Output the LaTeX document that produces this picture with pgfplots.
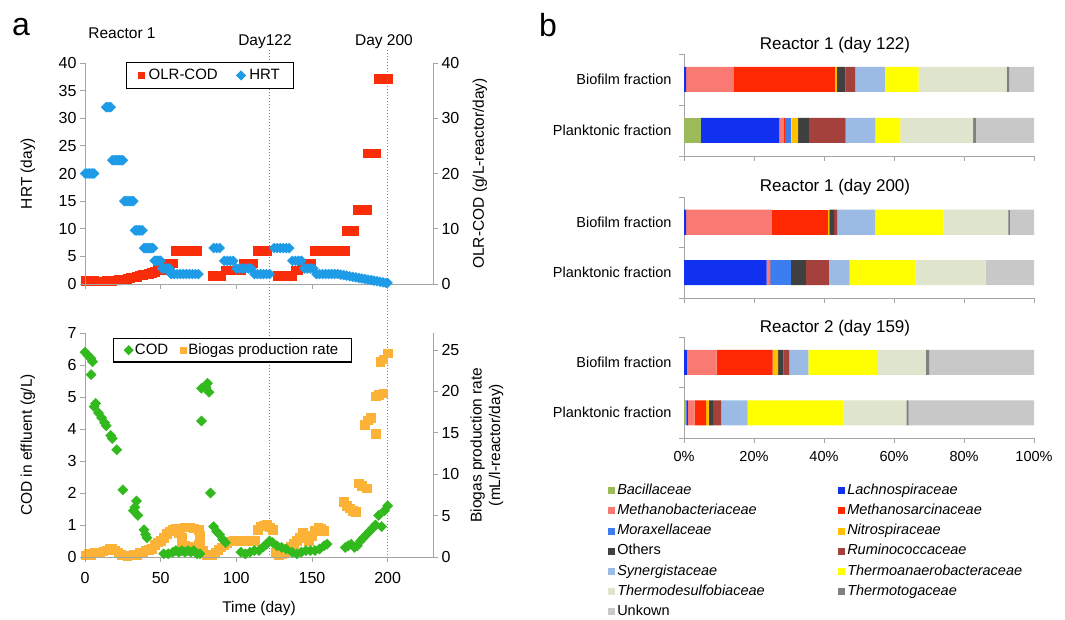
\documentclass[border=0pt]{standalone}
\usepackage{fontspec}
\setmainfont{Liberation Sans}
\usepackage{pgfplots}
\usepackage{pgfplotstable}
\pgfplotsset{compat=1.18}

\definecolor{cOLR}{RGB}{250,45,10}
\definecolor{cHRT}{RGB}{30,155,230}
\definecolor{cCOD}{RGB}{50,185,30}
\definecolor{cBio}{RGB}{252,178,55}
\definecolor{axgray}{RGB}{165,165,165}
\definecolor{cBac}{RGB}{155,187,89}
\definecolor{cLac}{RGB}{16,50,240}
\definecolor{cMba}{RGB}{248,122,114}
\definecolor{cMsa}{RGB}{255,40,0}
\definecolor{cMor}{RGB}{60,125,240}
\definecolor{cNit}{RGB}{255,192,0}
\definecolor{cOth}{RGB}{64,64,64}
\definecolor{cRum}{RGB}{165,65,60}
\definecolor{cSyn}{RGB}{155,187,228}
\definecolor{cTan}{RGB}{255,255,0}
\definecolor{cTds}{RGB}{223,228,205}
\definecolor{cTto}{RGB}{128,128,128}
\definecolor{cUnk}{RGB}{200,200,200}

\newcommand\ftick{\fontsize{16}{19}\selectfont}
\newcommand\flab{\fontsize{15.5}{18.5}\selectfont}
\newcommand\fleg{\fontsize{15}{18}\selectfont}
\newcommand\fbar{\fontsize{14.5}{17}\selectfont}
\newcommand\ftitle{\fontsize{17}{20}\selectfont}
\newcommand\fletter{\fontsize{32}{36}\selectfont}

\pgfplotsset{
  leftbase/.style={scale only axis, width=348pt, anchor=south west,
    xmin=0, xmax=230, clip=false,
    tick align=outside, major tick length=5pt,
    axis line style={axgray, line width=0.8pt},
    tick style={axgray, line width=0.8pt},
    tick label style={font=\ftick},
    /pgf/number format/assume math mode=true},
  segleg/.style={legend image code/.code={\fill[##1] (0pt,-3.5pt) rectangle (7pt,3.5pt);}},
  barpanel/.style={scale only axis, width=350pt, height=101pt, anchor=south west,
    xmin=0, xmax=100, ymin=0.5, ymax=2.5, xbar stacked, bar width=25pt, clip=false,
    axis x line*=bottom, axis y line*=left,
    axis line style={axgray, line width=0.8pt},
    tick style={axgray, line width=0.8pt},
    tick align=outside, major tick length=5pt,
    xtick={0,20,...,100}, xticklabels={},
    ytick={0.5,1.5,2.5}, yticklabels={},
    extra y ticks={1,2},
    extra y tick labels={Planktonic fraction,Biofilm fraction},
    extra y tick style={major tick length=0pt, yticklabel style={font=\fbar, xshift=-9pt}},
    xticklabel style={font=\fbar, yshift=-5pt},
    every axis plot post/.append style={segleg}},
}

\pgfplotstableread{
pos Bac Lac Mba Msa Mor Nit Oth Rum Syn Tan Tds Tto Unk
2 0 0.6 13.5 29.0 0 0.6 2.4 2.8 8.5 9.6 25.2 0.7 7.1
1 4.8 22.4 1.3 0.3 1.9 1.9 3.1 10.5 8.5 7.1 20.8 0.8 16.6
}\tabA
\pgfplotstableread{
pos Bac Lac Mba Msa Mor Nit Oth Rum Syn Tan Tds Tto Unk
2 0 0.6 24.5 16.1 0 0.3 1.4 0.9 10.8 19.5 18.6 0.3 7.0
1 0 23.6 1.1 0 5.8 0 4.3 6.6 5.9 18.9 20.0 0 13.8
}\tabB
\pgfplotstableread{
pos Bac Lac Mba Msa Mor Nit Oth Rum Syn Tan Tds Tto Unk
2 0 0.8 8.5 16.0 0 1.6 1.5 1.7 5.4 19.7 13.9 1.0 29.9
1 0.7 0.4 1.9 3.3 0 0.8 1.2 2.3 7.6 27.4 17.9 0.7 35.8
}\tabC

\newcommand\barplots[1]{%
  \addplot[fill=cBac, draw=none] table[x=Bac, y=pos] {#1};
  \addplot[fill=cLac, draw=none] table[x=Lac, y=pos] {#1};
  \addplot[fill=cMba, draw=none] table[x=Mba, y=pos] {#1};
  \addplot[fill=cMsa, draw=none] table[x=Msa, y=pos] {#1};
  \addplot[fill=cMor, draw=none] table[x=Mor, y=pos] {#1};
  \addplot[fill=cNit, draw=none] table[x=Nit, y=pos] {#1};
  \addplot[fill=cOth, draw=none] table[x=Oth, y=pos] {#1};
  \addplot[fill=cRum, draw=none] table[x=Rum, y=pos] {#1};
  \addplot[fill=cSyn, draw=none] table[x=Syn, y=pos] {#1};
  \addplot[fill=cTan, draw=none] table[x=Tan, y=pos] {#1};
  \addplot[fill=cTds, draw=none] table[x=Tds, y=pos] {#1};
  \addplot[fill=cTto, draw=none] table[x=Tto, y=pos] {#1};
  \addplot[fill=cUnk, draw=none] table[x=Unk, y=pos] {#1};
}

\begin{document}
\begin{tikzpicture}
\useasboundingbox (0pt,0pt) rectangle (1065pt,619pt);

% ---------------- top left: OLR (right axis) ----------------
\begin{axis}[leftbase, at={(85pt,335pt)}, height=221pt,
  ymin=0, ymax=40, axis x line=none, axis y line*=right,
  ytick={0,10,...,40},
  ylabel={OLR-COD (g/L-reactor/day)},
  every axis y label/.style={at={(axis description cs:1.135,0.5)}, rotate=90, anchor=center, font=\flab}]
\addplot[only marks, mark=square*, mark size=4.3pt, color=cOLR, mark options={draw=none, fill=cOLR}] coordinates {
(0,0.6)(2,0.6)(4,0.6)(6,0.6)
(10,0.5)(12,0.5)(14,0.55)(16,0.6)(18,0.65)(20,0.7)(22,0.8)(24,0.85)(26,0.9)(28,1.0)(30,1.1)(32,1.2)(34,1.3)
(36,1.6)(38,1.7)(40,1.8)(42,1.9)(44,2.0)(46,2.2)
(48,2.6)(50,2.6)(52,2.6)
(54,3.8)(56,3.8)(58,3.8)
(60,6)(62,6)(64,6)(66,6)(68,6)(70,6)(72,6)(74,6)
(84,1.5)(86,1.5)(88,1.5)(90,1.5)
(93,2.5)(95,2.5)(97,2.5)(99,2.5)(101,2.5)(103,2.5)
(105,3.8)(107,3.8)(109,3.8)(111,3.8)
(114,6)(116,6)(118,6)(120,6)
(127,1.5)(129,1.5)(131,1.5)(133,1.5)(135,1.5)(137,1.5)
(139,2.5)(141,2.5)
(143,3.8)(145,3.8)(147,3.8)(149,3.8)
(152,6)(154,6)(156,6)(158,6)(160,6)(162,6)(164,6)(166,6)(168,6)(170,6)(172,6)
(173,9.6)(175,9.6)(177,9.6)(178,9.6)
(180,13.5)(182,13.5)(184,13.5)(186,13.5)
(187,23.7)(189,23.7)(191,23.7)(192,23.7)
(194,37.2)(196,37.2)(198,37.2)(200,37.2)
};
\end{axis}

% ---------------- top left: HRT (left axis) ----------------
\begin{axis}[leftbase, at={(85pt,335pt)}, height=221pt,
  ymin=0, ymax=40, axis x line*=bottom, axis y line*=left,
  xtick={0,50,...,200}, xticklabels={},
  ytick={0,5,...,40},
  ylabel={HRT (day)},
  every axis y label/.style={at={(axis description cs:-0.164,0.5)}, rotate=90, anchor=center, font=\flab},
  legend columns=2,
  legend image code/.code={\draw[#1, mark size=3pt] plot coordinates {(0pt,0pt)};},
  legend style={at={(0.118,1.005)}, anchor=north west, draw=black, line width=1.2pt, fill=white,
    font=\fleg, inner xsep=12pt, inner ysep=5pt,
    /tikz/every odd column/.append style={column sep=2pt},
    /tikz/every even column/.append style={column sep=17pt}}]
\addlegendimage{only marks, mark=square*, color=cOLR, mark options={draw=none, fill=cOLR}}
\addlegendentry{OLR-COD}
\addplot[only marks, mark=square*, mark size=3.5pt, color=cHRT, mark options={rotate=45, draw=none, fill=cHRT}] coordinates {
(0,20)(1,20)(2,20)(3,20)(4,20)(5,20)(6,20)
(14,32)(15,32)(16,32)(17,32)
(18,22.4)(19,22.4)(20,22.4)(21,22.4)(22,22.4)(23,22.4)(24,22.4)(25,22.4)
(26,15)(27,15)(28,15)(29,15)(30,15)(31,15)(32,15)
(33,9.7)(34,9.7)(35,9.7)(36,9.7)(37,9.7)(38,9.7)
(39,6.5)(40,6.5)(41,6.5)(42,6.5)(43,6.5)(44,6.5)(45,6.5)
(46,4.2)(47,4.2)(48,4.2)(49,4.2)(50,4.2)
(51,2.8)(52,2.8)(53,2.8)(54,2.8)(55,2.8)(56,2.8)
(57,1.8)(59,1.8)(61,1.8)(63,1.8)(65,1.8)(67,1.8)(69,1.8)(71,1.8)(73,1.8)(75,1.8)
(85,6.5)(87,6.5)(89,6.5)
(92,4.2)(94,4.2)(96,4.2)(98,4.2)
(100,2.8)(102,2.8)(104,2.8)(106,2.8)(108,2.8)(110,2.8)
(112,1.8)(114,1.8)(116,1.8)(118,1.8)(120,1.8)(122,1.8)
(125,6.5)(127,6.5)(129,6.5)(131,6.5)(133,6.5)(135,6.5)
(137,4.2)(139,4.2)(141,4.2)(143,4.2)
(145,2.8)(147,2.8)(149,2.8)(151,2.8)
(153,1.8)(155,1.8)(157,1.8)(159,1.8)(161,1.8)(163,1.8)(165,1.8)(167,1.8)
(169,1.7)(171,1.6)(173,1.5)(175,1.4)(177,1.3)(179,1.2)(181,1.1)(183,1.0)(185,0.9)(187,0.8)(189,0.7)(191,0.6)(193,0.5)(195,0.4)(197,0.3)(199,0.2)(200,0.2)
};
\addlegendentry{HRT}
\draw[gray, line width=0.8pt, dash pattern=on 1.5pt off 1.5pt] (axis cs:122,42.4) -- (axis cs:122,-49.4);
\draw[gray, line width=0.8pt, dash pattern=on 1.5pt off 1.5pt] (axis cs:200,42.4) -- (axis cs:200,-49.4);
\end{axis}

% ---------------- bottom left: Biogas (right axis) ----------------
\begin{axis}[leftbase, at={(85pt,62pt)}, height=224pt,
  ymin=0, ymax=27.05, axis x line=none, axis y line*=right,
  ytick={0,5,...,25},
  ylabel={Biogas production rate\\(mL/l-reactor/day)},
  every axis y label/.style={at={(axis description cs:1.155,0.5)}, rotate=90, anchor=center, align=center, font=\flab}]
\addplot[only marks, mark=square*, mark size=4.3pt, color=cBio, mark options={draw=none, fill=cBio}] coordinates {
(0,0.2)(2,0.4)(4,0.3)(6,0.5)(8,0.6)(10,0.5)(12,0.7)(14,0.8)(16,1.0)(18,1.0)(20,0.8)(22,0.5)(24,0.3)(26,0.2)(28,0.1)(30,0.2)(32,0.3)(34,0.3)(36,0.5)(38,0.6)(40,0.8)(42,0.9)(44,1.0)(46,1.5)(48,1.8)(50,2.0)(52,2.3)(54,2.8)(56,3.1)(58,3.3)(60,3.4)(63,3.5)(66,3.6)(69,3.6)(72,3.5)(75,3.3)(76,2.6)(76,2.0)(75,1.5)(72,1.3)(69,1.3)(66,1.4)(64,1.8)(64,2.4)(62,2.9)
(78,0.8)(80,0.3)(82,0.2)(84,0.3)(86,0.5)(88,0.9)(90,1.2)(92,1.5)(94,1.7)(96,1.9)(98,2.0)(100,2.0)(103,2.0)(106,2.0)(109,2.0)(112,2.0)(114,3.3)(116,3.7)(118,3.8)(120,3.9)(122,3.6)(124,3.3)
(126,0.5)(128,0.3)(130,0.4)(132,0.6)(134,1.0)(136,1.3)(138,1.6)(140,2.0)(142,2.4)(144,2.9)(146,2.3)(148,2.0)(150,2.6)(152,3.2)(154,3.6)(156,3.5)(158,3.2)
(171,6.7)(173,6.2)(175,5.9)(177,5.6)(179,5.5)(181,8.9)(183,8.6)(186,8.3)(185,16.0)(187,16.5)(189,16.8)(192,14.9)(192,19.4)(194,19.6)(197,19.8)(195,23.6)(197,23.9)(200,24.6)
};
\end{axis}

% ---------------- bottom left: COD (left axis) ----------------
\begin{axis}[leftbase, at={(85pt,62pt)}, height=224pt,
  ymin=0, ymax=7, axis x line*=bottom, axis y line*=left,
  xtick={0,50,...,200},
  xticklabel style={yshift=-7pt},
  ytick={0,1,...,7},
  xlabel={Time (day)},
  every axis x label/.style={at={(axis description cs:0.5,-0.228)}, anchor=center, font=\flab},
  ylabel={COD in effluent (g/L)},
  every axis y label/.style={at={(axis description cs:-0.164,0.5)}, rotate=90, anchor=center, font=\flab},
  legend columns=2,
  legend image code/.code={\draw[#1, mark size=3pt] plot coordinates {(0pt,0pt)};},
  legend style={at={(0.080,0.978)}, anchor=north west, draw=black, line width=1.2pt, fill=white,
    font=\fleg, inner xsep=11pt, inner ysep=3.5pt,
    /tikz/every odd column/.append style={column sep=0pt},
    /tikz/every even column/.append style={column sep=10pt}}]
\addplot[only marks, mark=square*, mark size=3.6pt, color=cCOD, mark options={rotate=45, draw=none, fill=cCOD}] coordinates {
(0,6.4)(2,6.3)(4,6.2)(5,6.1)(4,5.7)(7,4.8)(6,4.7)(9,4.5)(11,4.35)(13,4.2)(14,4.1)(17,3.8)(18,3.7)(21,3.35)(25,2.1)(34,1.75)(33,1.55)(32,1.45)(35,1.3)(39,0.85)(40,0.7)(41,0.6)
(52,0.1)(55,0.1)(58,0.15)(60,0.2)(62,0.15)(64,0.2)(66,0.15)(68,0.2)(70,0.15)(72,0.2)(74,0.1)(76,0.1)
(77,4.25)(77,5.27)(80,5.3)(81,5.43)(82,5.15)(83,2.0)(85,0.95)(87,0.8)(89,0.7)(91,0.55)(93,0.45)
(103,0.15)(106,0.1)(109,0.15)(112,0.2)(115,0.2)(118,0.32)(120,0.4)(122,0.5)(124,0.45)(127,0.35)(130,0.3)(133,0.25)(137,0.15)(140,0.1)(143,0.15)(146,0.2)(149,0.2)(152,0.2)(155,0.25)(158,0.35)(160,0.4)
(172,0.3)(174,0.35)(176,0.4)(178,0.3)(180,0.35)(182,0.5)(184,0.6)(186,0.7)(188,0.8)(190,0.9)(192,1.0)(194,1.3)(196,0.95)(198,1.45)(200,1.6)
};
\addlegendentry{COD}
\addlegendimage{only marks, mark=square*, color=cBio, mark options={draw=none, fill=cBio}}
\addlegendentry{Biogas production rate}
\end{axis}

% ---------------- bar panels ----------------
\begin{axis}[barpanel, at={(684pt,463pt)}, height=102pt]
\barplots{\tabA}
\end{axis}
\begin{axis}[barpanel, at={(684pt,321pt)}]
\barplots{\tabB}
\end{axis}
\begin{axis}[barpanel, at={(684pt,181pt)},
  xticklabels={0\%,20\%,40\%,60\%,80\%,100\%},
  legend columns=2, legend cell align=left,
  legend style={at={(-0.217,-0.446)}, anchor=north west, draw=none, fill=none,
    font=\fbar, row sep=5.2pt, inner sep=0pt,
    nodes={inner xsep=2pt, inner ysep=0pt, text height=11pt, text depth=4pt}}]
\barplots{\tabC}
\legend{\makebox[219pt][l]{\textit{Bacillaceae}}, \makebox[219pt][l]{\textit{Lachnospiraceae}},
  \makebox[219pt][l]{\textit{Methanobacteriaceae}}, \makebox[219pt][l]{\textit{Methanosarcinaceae}},
  \makebox[219pt][l]{\textit{Moraxellaceae}}, \makebox[219pt][l]{\textit{Nitrospiraceae}},
  \makebox[219pt][l]{Others}, \makebox[219pt][l]{\textit{Ruminococcaceae}},
  \makebox[219pt][l]{\textit{Synergistaceae}}, \makebox[219pt][l]{\textit{Thermoanaerobacteraceae}},
  \makebox[219pt][l]{\textit{Thermodesulfobiaceae}}, \makebox[219pt][l]{\textit{Thermotogaceae}},
  \makebox[219pt][l]{Unkown}}
\end{axis}

% ---------------- annotations ----------------
\node[font=\fletter] at (21pt,592pt) {a};
\node[font=\fletter] at (548pt,594pt) {b};
\node[font=\flab] at (122pt,586pt) {Reactor 1};
\node[font=\flab] at (265pt,577pt) {Day122};
\node[font=\flab] at (384pt,577pt) {Day 200};
\node[font=\ftitle] at (835pt,574pt) {Reactor 1 (day 122)};
\node[font=\ftitle] at (835pt,432pt) {Reactor 1 (day 200)};
\node[font=\ftitle] at (835pt,291pt) {Reactor 2 (day 159)};
\end{tikzpicture}
\end{document}
